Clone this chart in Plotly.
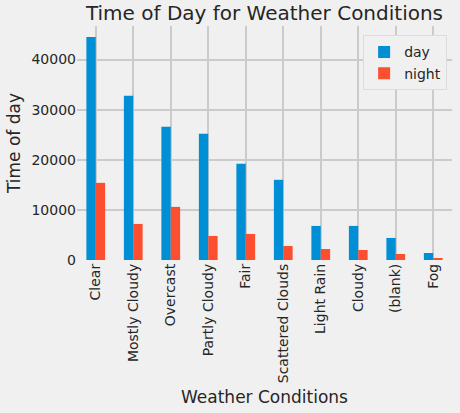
import plotly.graph_objects as go

categories = ["Clear", "Mostly Cloudy", "Overcast", "Partly Cloudy", "Fair",
              "Scattered Clouds", "Light Rain", "Cloudy", "(blank)", "Fog"]
day = [44500, 32800, 26600, 25200, 19200, 16000, 6800, 6800, 4400, 1400]
night = [15400, 7200, 10600, 4800, 5200, 2800, 2200, 2000, 1200, 400]

BG = "#f0f0f0"
GRID = "#cbcbcb"
TXT = "#262626"
FONT = "DejaVu Sans"

fig = go.Figure()
fig.add_trace(go.Bar(x=categories, y=day, name="day", marker=dict(color="#008fd5", line=dict(width=0))))
fig.add_trace(go.Bar(x=categories, y=night, name="night", marker=dict(color="#fc4f30", line=dict(width=0))))

fig.update_layout(
    width=460, height=413,
    margin=dict(l=77, r=8, t=26, b=153),
    paper_bgcolor=BG, plot_bgcolor=BG,
    barmode="group", bargap=0.5, bargroupgap=0,
    font=dict(family=FONT, size=14, color=TXT),
    title=dict(text="Time of Day for Weather Conditions", x=0.575, xanchor="center",
               y=0.985, yanchor="top", font=dict(size=20, color=TXT)),
    legend=dict(x=0.987, xanchor="right", y=0.96, yanchor="top",
                bgcolor=BG, bordercolor="#dcdcdc", borderwidth=1,
                font=dict(size=14, color=TXT)),
    showlegend=True,
)
fig.update_xaxes(
    type="category", range=[-0.5, 9.5], tickangle=-90,
    showgrid=True, gridcolor=GRID, gridwidth=1.5, showline=False, zeroline=False,
    ticks="", tickfont=dict(size=14, color=TXT),
    title=dict(text="Weather Conditions", font=dict(size=17, color=TXT), standoff=8),
)
fig.update_yaxes(
    range=[0, 46700], tickvals=[0, 10000, 20000, 30000, 40000],
    ticktext=["0", "10000", "20000", "30000", "40000"],
    showgrid=True, gridcolor=GRID, gridwidth=1.5, zeroline=False, showline=False,
    ticks="", tickfont=dict(size=14, color=TXT),
    title=dict(text="Time of day", font=dict(size=17, color=TXT), standoff=6),
)

fig.write_html("out.html")
